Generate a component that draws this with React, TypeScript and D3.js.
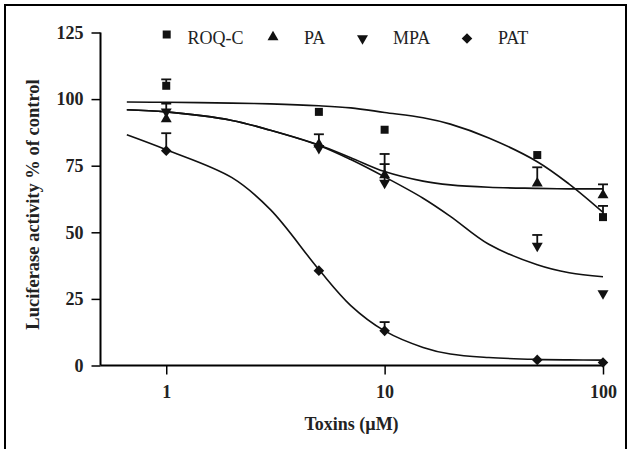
import { useEffect, useRef } from 'react';
import * as d3 from 'd3';

// measured points (concentration in µM)
const conc = [1, 5, 10, 50, 100];
const roqc = [105, 95.2, 88.5, 79, 55.7];
const roqcErr = [2.4, 0, 0, 0, 4.2];
const pa = [92.5, 83, 71.5, 68.4, 64.0];
const paErr = [0, 3.8, 7.9, 6, 4];
const mpa = [95.3, 81.6, 68.5, 44.9, 27.1];
const mpaErr = [3, 0, 7.1, 4.1, 0];
const pat = [80.6, 35.6, 13.0, 2.1, 1.1];
const patErr = [6.6, 0, 3.3, 0, 0];

// fitted curves
const fitX = [0.66, 1, 2, 3, 5, 7, 10, 15, 20, 30, 50, 70, 100];
const roqcFit = [98.9, 98.8, 98.5, 98.2, 97.5, 96.7, 95.0, 93.0, 90.6, 85.4, 76.5, 68.1, 57.5];
const paFit = [96.0, 95.2, 92.0, 88.3, 82.8, 78.0, 72.8, 69.2, 67.8, 66.9, 66.5, 66.3, 66.3];
const mpaFit = [96.0, 95.2, 92.0, 88.3, 82.6, 77.3, 70.8, 62.8, 56.0, 45.5, 37.8, 34.8, 33.3];
const patFit = [86.6, 81.0, 70.5, 58.5, 36.0, 22.5, 13.0, 6.8, 4.3, 3.0, 2.3, 2.1, 2.0];

const xTicks = [1, 10, 100];
const yTicks = [0, 25, 50, 75, 100, 125];

const seriesNames = ['ROQ-C', 'PA', 'MPA', 'PAT'];
const seriesValues = [roqc, pa, mpa, pat];
const seriesErrors = [roqcErr, paErr, mpaErr, patErr];
const seriesFits = [roqcFit, paFit, mpaFit, patFit];

const FONT = '"Liberation Serif", "Times New Roman", serif';

function markerPath(i: number) {
  if (i === 0) return { d: d3.symbol(d3.symbolSquare, 64)(), rot: 0 };
  if (i === 1) return { d: d3.symbol(d3.symbolTriangle, 52)(), rot: 0 };
  if (i === 2) return { d: d3.symbol(d3.symbolTriangle, 52)(), rot: 180 };
  return { d: d3.symbol(d3.symbolSquare, 56)(), rot: 45 };
}

function DoseResponse() {
  const svgRef = useRef<SVGSVGElement>(null);

  useEffect(() => {
    const svg = d3.select(svgRef.current);
    svg.selectAll('*').remove();

    const x = d3.scaleLog().domain([0.5, 100]).range([100.5, 603]);
    const y = d3.scaleLinear().domain([0, 125]).range([365.5, 32.5]);

    // frame
    svg.append('rect')
      .attr('x', 5).attr('y', 5)
      .attr('width', 621).attr('height', 470)
      .attr('fill', 'none')
      .attr('stroke', '#000')
      .attr('stroke-width', 2);

    // y axis
    const yAxis = svg.append('g')
      .attr('transform', 'translate(100.5,0)')
      .call(d3.axisLeft(y).tickValues(yTicks).tickSize(9).tickPadding(8).tickFormat(d3.format('d')));
    yAxis.select('.domain').attr('d', `M0,${y(125)}V${y(0)}`).attr('stroke-width', 2);
    yAxis.selectAll('.tick line').attr('stroke-width', 1.5);
    yAxis.selectAll('text')
      .attr('font-family', FONT).attr('font-size', 18).attr('font-weight', 'bold').attr('fill', '#222');

    // x axis
    const xAxis = svg.append('g')
      .attr('transform', `translate(0,${y(0)})`)
      .call(d3.axisBottom(x).tickValues(xTicks).tickSize(9).tickPadding(11).tickFormat(d3.format('d')));
    xAxis.select('.domain').attr('d', `M${x(0.5)},0H${x(100)}`).attr('stroke-width', 2);
    xAxis.selectAll('.tick line').attr('stroke-width', 1.5);
    xAxis.selectAll('text')
      .attr('font-family', FONT).attr('font-size', 18).attr('font-weight', 'bold').attr('fill', '#222');

    // axis titles
    svg.append('text')
      .attr('x', 351.5).attr('y', 430)
      .attr('text-anchor', 'middle')
      .attr('font-family', FONT).attr('font-size', 18).attr('font-weight', 'bold').attr('fill', '#222')
      .text('Toxins (µM)');

    svg.append('text')
      .attr('transform', 'translate(39,204.5) rotate(-90)')
      .attr('text-anchor', 'middle')
      .attr('font-family', FONT).attr('font-size', 18.5).attr('font-weight', 'bold').attr('fill', '#222')
      .text('Luciferase activity % of control');

    // fitted curves
    const line = d3.line<[number, number]>()
      .x(d => x(d[0]))
      .y(d => y(d[1]))
      .curve(d3.curveCatmullRom.alpha(0.5));

    seriesFits.forEach(fit => {
      svg.append('path')
        .datum(fitX.map((c, i) => [c, fit[i]] as [number, number]))
        .attr('fill', 'none')
        .attr('stroke', '#111')
        .attr('stroke-width', 1.6)
        .attr('d', line);
    });

    // error bars (upper only)
    seriesValues.forEach((vals, s) => {
      const errs = seriesErrors[s];
      vals.forEach((v, i) => {
        if (!errs[i]) return;
        const cx = x(conc[i]);
        const g = svg.append('g').attr('stroke', '#111').attr('stroke-width', 1.8);
        g.append('line').attr('x1', cx).attr('x2', cx).attr('y1', y(v)).attr('y2', y(v + errs[i]));
        g.append('line').attr('x1', cx - 5).attr('x2', cx + 5).attr('y1', y(v + errs[i])).attr('y2', y(v + errs[i]));
      });
    });

    // markers
    seriesValues.forEach((vals, s) => {
      const m = markerPath(s);
      svg.append('g').selectAll('path')
        .data(vals)
        .join('path')
        .attr('d', m.d)
        .attr('transform', (v, i) => `translate(${x(conc[i])},${y(v)}) rotate(${m.rot})`)
        .attr('fill', '#111');
    });

    // legend
    const legendMarkX = [166.7, 273, 362.5, 467];
    const legendTextX = [187.5, 304, 393, 498];
    const legendMarkY = [34.5, 37, 38.5, 38.5];
    seriesNames.forEach((name, s) => {
      const m = markerPath(s);
      svg.append('path')
        .attr('d', m.d)
        .attr('transform', `translate(${legendMarkX[s]},${legendMarkY[s]}) rotate(${m.rot})`)
        .attr('fill', '#111');
      svg.append('text')
        .attr('x', legendTextX[s]).attr('y', 43.5)
        .attr('font-family', FONT).attr('font-size', 18).attr('fill', '#222')
        .text(name);
    });
  }, []);

  return (
    <svg ref={svgRef} width={627} height={449}
      style={{ position: 'absolute', left: 0, top: 0, background: '#fff' }} />
  );
}

export default function App() {
  return <DoseResponse />;
}
